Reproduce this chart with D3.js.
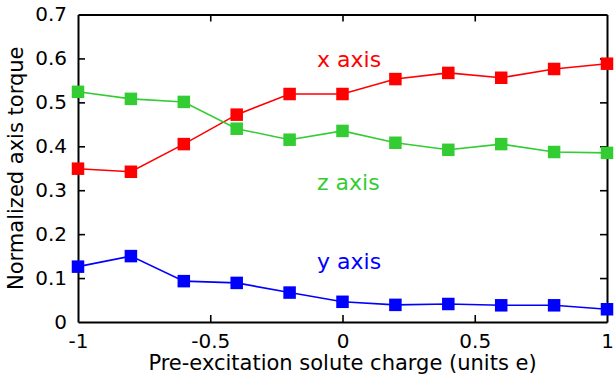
<!DOCTYPE html>
<html>
<head>
<meta charset="utf-8">
<script src="https://cdn.jsdelivr.net/npm/d3@7"></script>
<style>
  html, body { margin: 0; padding: 0; background: #fff; }
  svg { display: block; font-family: "DejaVu Sans", sans-serif; }
</style>
</head>
<body>
<svg id="chart" width="616" height="378"></svg>
<script>
// Pre-excitation solute charge (units e)
const charges = [-1, -0.8, -0.6, -0.4, -0.2, 0, 0.2, 0.4, 0.6, 0.8, 1];

// Normalized axis torque per axis
const xAxisTorque = [0.349, 0.342, 0.405, 0.472, 0.519, 0.519, 0.553, 0.567, 0.556, 0.576, 0.588];
const zAxisTorque = [0.524, 0.508, 0.501, 0.440, 0.415, 0.435, 0.408, 0.392, 0.405, 0.387, 0.385];
const yAxisTorque = [0.126, 0.150, 0.093, 0.089, 0.067, 0.046, 0.039, 0.041, 0.038, 0.038, 0.029];

const xTicks = [-1, -0.5, 0, 0.5, 1];
const xTickLabels = ["-1", "-0.5", "0", "0.5", "1"];
const yTicks = [0, 0.1, 0.2, 0.3, 0.4, 0.5, 0.6, 0.7];
const yTickLabels = ["0", "0.1", "0.2", "0.3", "0.4", "0.5", "0.6", "0.7"];

const seriesNames = ["x axis", "z axis", "y axis"];
const seriesColors = ["#ff0000", "#33cc33", "#0000ff"];

(function draw() {
  const svg = d3.select("#chart");
  const margin = { left: 78, right: 9, top: 14.5, bottom: 56 };
  const W = 616, H = 378;
  const x = d3.scaleLinear().domain([-1, 1]).range([margin.left, W - margin.right]);
  const y = d3.scaleLinear().domain([0, 0.7]).range([H - margin.bottom, margin.top]);

  const series = [
    { name: seriesNames[0], color: seriesColors[0], values: xAxisTorque, lx: 317, ly: 67 },
    { name: seriesNames[1], color: seriesColors[1], values: zAxisTorque, lx: 317, ly: 190 },
    { name: seriesNames[2], color: seriesColors[2], values: yAxisTorque, lx: 317, ly: 269 }
  ];

  const tickLen = 7;
  const fmt = (arr, labels) => d => labels[arr.indexOf(d)];

  // Bottom and left axes carry labels; top and right mirror the ticks (pointing inward)
  const gBottom = svg.append("g").attr("transform", `translate(0,${y(0)})`)
    .call(d3.axisBottom(x).tickValues(xTicks).tickFormat(fmt(xTicks, xTickLabels)).tickSizeInner(-tickLen).tickSizeOuter(0).tickPadding(12));
  const gTop = svg.append("g").attr("transform", `translate(0,${y(0.7)})`)
    .call(d3.axisTop(x).tickValues(xTicks).tickFormat("").tickSizeInner(-tickLen).tickSizeOuter(0));
  const gLeft = svg.append("g").attr("transform", `translate(${x(-1)},0)`)
    .call(d3.axisLeft(y).tickValues(yTicks).tickFormat(fmt(yTicks, yTickLabels)).tickSizeInner(-tickLen).tickSizeOuter(0).tickPadding(11));
  const gRight = svg.append("g").attr("transform", `translate(${x(1)},0)`)
    .call(d3.axisRight(y).tickValues(yTicks).tickFormat("").tickSizeInner(-tickLen).tickSizeOuter(0));

  [gBottom, gTop, gLeft, gRight].forEach(g => {
    g.select(".domain").attr("stroke", "#000").attr("stroke-width", 2);
    g.selectAll(".tick line").attr("stroke", "#000").attr("stroke-width", 1.6);
    g.selectAll(".tick text").attr("fill", "#000").attr("font-size", 20)
      .attr("font-family", "DejaVu Sans, sans-serif");
  });
  // End ticks coincide with the frame
  [gBottom, gTop].forEach(g => g.selectAll(".tick").filter(d => d === -1 || d === 1).select("line").remove());
  [gLeft, gRight].forEach(g => g.selectAll(".tick").filter(d => d === 0 || d === 0.7).select("line").remove());

  // Series lines and square markers
  const line = d3.line().x((d, i) => x(charges[i])).y(d => y(d));
  const mk = 12.5;
  series.forEach(s => {
    svg.append("path").datum(s.values).attr("d", line)
      .attr("fill", "none").attr("stroke", s.color).attr("stroke-width", 1.6);
    svg.append("g").selectAll("rect").data(s.values).join("rect")
      .attr("x", (d, i) => x(charges[i]) - mk / 2)
      .attr("y", d => y(d) - mk / 2)
      .attr("width", mk).attr("height", mk)
      .attr("fill", s.color);
    svg.append("text").attr("x", s.lx).attr("y", s.ly)
      .attr("fill", s.color).attr("font-size", 22).text(s.name);
  });

  // Axis titles
  svg.append("text").attr("x", (x(-1) + x(1)) / 2).attr("y", 370)
    .attr("text-anchor", "middle").attr("font-size", 21).attr("fill", "#000")
    .text("Pre-excitation solute charge (units e)");
  svg.append("text")
    .attr("transform", `translate(23,${(y(0) + y(0.7)) / 2}) rotate(-90)`)
    .attr("text-anchor", "middle").attr("font-size", 21).attr("fill", "#000")
    .text("Normalized axis torque");
})();
</script>
</body>
</html>
